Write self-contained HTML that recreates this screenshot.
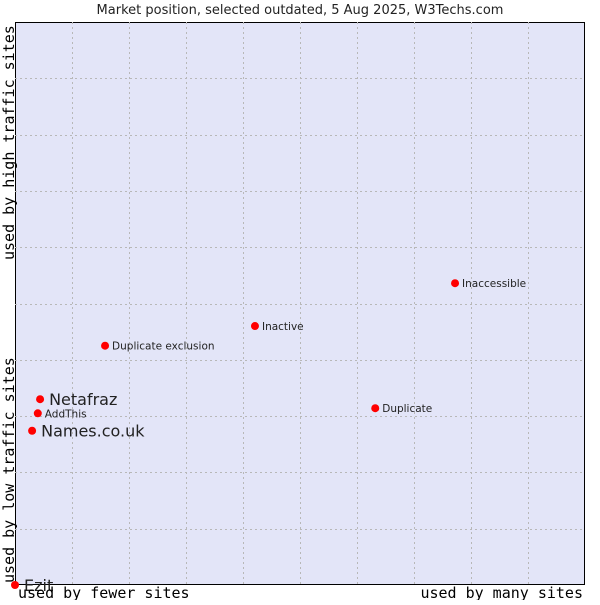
<!DOCTYPE html>
<html><head><meta charset="utf-8"><style>
body{margin:0;background:#fff;width:600px;height:600px;overflow:hidden}
svg text{font-family:"DejaVu Sans","Liberation Sans",sans-serif}
.mono{font-family:"DejaVu Sans Mono","Liberation Mono",monospace}
</style></head><body>
<svg id="chart" width="600" height="600" xmlns="http://www.w3.org/2000/svg">
<text x="300" y="14" text-anchor="middle" font-size="13" fill="#222">Market position, selected outdated, 5 Aug 2025, W3Techs.com</text>
<rect x="15.5" y="22.5" width="569" height="562" fill="#e3e5f8" stroke="#000" stroke-width="1"/>
<g id="grid"></g>
<g id="points"></g>
<text class="mono" x="18" y="598" font-size="15" fill="#000">used by fewer sites</text>
<text class="mono" x="583" y="598" text-anchor="end" font-size="15" fill="#000">used by many sites</text>
<text class="mono" transform="translate(14,583) rotate(-90)" font-size="15" fill="#000">used by low traffic sites</text>
<text class="mono" transform="translate(14,260) rotate(-90)" font-size="15" fill="#000">used by high traffic sites</text>
</svg>
<script>
const names=["Ezit","Names.co.uk","AddThis","Netafraz","Duplicate exclusion","Inactive","Duplicate","Inaccessible"];
const xVals=[0,3.0,4.0,4.4,15.8,42.1,63.2,77.2];
const yVals=[0,27.4,30.5,33.0,42.5,46.0,31.4,53.6];
const bigLabel=[true,true,false,true,false,false,false,false];
const X0=15,X1=585,Y0=585,Y1=22;
const sx=v=>X0+(X1-X0)*v/100, sy=v=>Y0-(Y0-Y1)*v/100;
const NS="http://www.w3.org/2000/svg";
const grid=document.getElementById('grid');
for(let i=1;i<10;i++){
  const gx=Math.round(sx(i*10))+0.5, gy=Math.round(sy(i*10))+0.5;
  const lv=document.createElementNS(NS,'line');
  
  
  lv.setAttribute('x1',gx);lv.setAttribute('x2',gx);lv.setAttribute('y1',Y1);lv.setAttribute('y2',Y0);
  lv.setAttribute('stroke','#b8b8b8');lv.setAttribute('stroke-dasharray','2,3');grid.appendChild(lv);
  const lh=document.createElementNS(NS,'line');
  
  
  lh.setAttribute('y1',gy);lh.setAttribute('y2',gy);lh.setAttribute('x1',X0);lh.setAttribute('x2',X1);
  lh.setAttribute('stroke','#b8b8b8');lh.setAttribute('stroke-dasharray','2,3');grid.appendChild(lh);
}
const pts=document.getElementById('points');
names.forEach((n,i)=>{
  const cx=sx(xVals[i]),cy=sy(yVals[i]);
  const c=document.createElementNS(NS,'circle');
  
  
  c.setAttribute('cx',cx);c.setAttribute('cy',cy);c.setAttribute('r',4);c.setAttribute('fill','#f00');
  pts.appendChild(c);
  const t=document.createElementNS(NS,'text');
  
  
  t.setAttribute('x',cx+(bigLabel[i]?9:7));t.setAttribute('y',cy+(bigLabel[i]?6:4));
  t.setAttribute('font-size',bigLabel[i]?16:10.5);t.setAttribute('fill','#222');
  t.textContent=n;pts.appendChild(t);
});
</script>
</body></html>
